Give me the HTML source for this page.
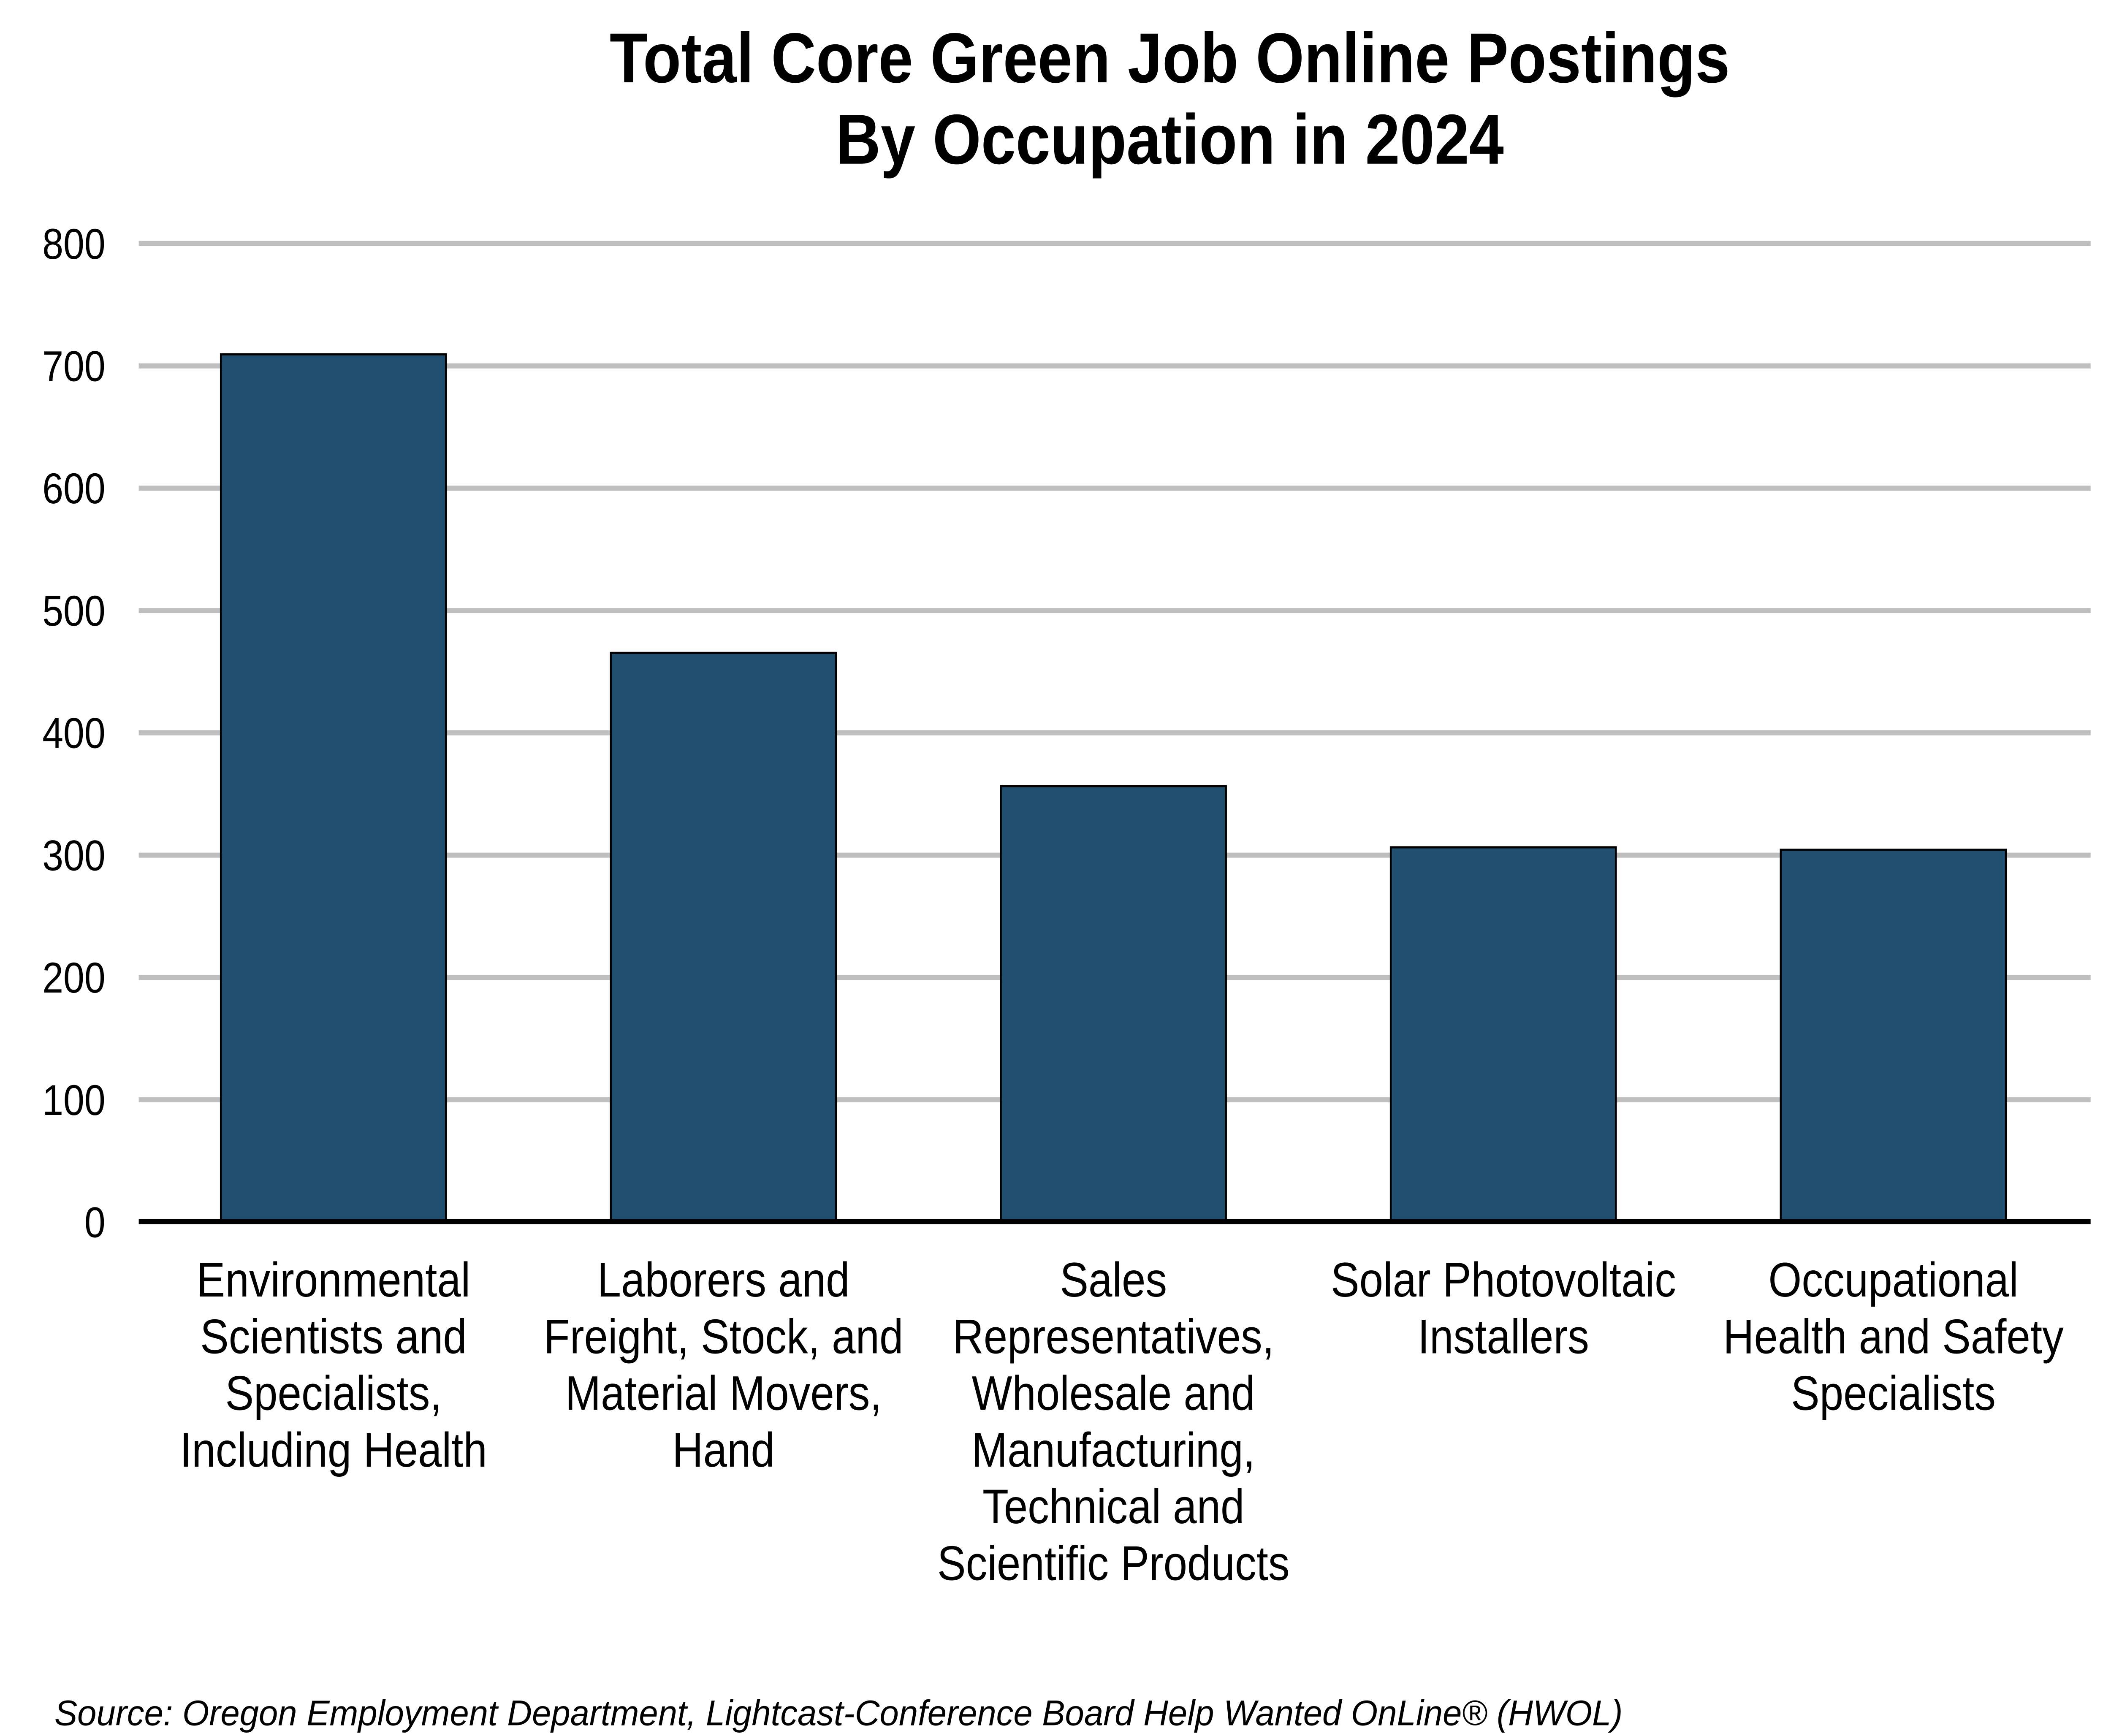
<!DOCTYPE html>
<html><head><meta charset="utf-8"><style>
html,body{margin:0;padding:0;background:#fff;overflow:hidden;width:100vw;height:100vh;}
svg{display:block;width:100vw;height:100vh;}
</style></head><body>
<svg viewBox="0 0 1552 1124" preserveAspectRatio="none" xmlns="http://www.w3.org/2000/svg" font-family="'Liberation Sans', Arial, sans-serif">
<rect width="1552" height="1124" fill="#fff"/>
<text x="860" y="53.3" font-size="45.8" font-weight="bold" text-anchor="middle">Total Core Green Job Online Postings</text>
<text x="860" y="106" font-size="45.8" font-weight="bold" text-anchor="middle">By Occupation in 2024</text>
<g stroke="#bfbfbf" stroke-width="3.3">
<line x1="102" x2="1537" y1="157.7" y2="157.7"/>
<line x1="102" x2="1537" y1="236.9" y2="236.9"/>
<line x1="102" x2="1537" y1="316.1" y2="316.1"/>
<line x1="102" x2="1537" y1="395.3" y2="395.3"/>
<line x1="102" x2="1537" y1="474.5" y2="474.5"/>
<line x1="102" x2="1537" y1="553.7" y2="553.7"/>
<line x1="102" x2="1537" y1="632.9" y2="632.9"/>
<line x1="102" x2="1537" y1="712.1" y2="712.1"/>
</g>
<g font-size="27.8" text-anchor="end">
<text x="77.5" y="167.5">800</text>
<text x="77.5" y="246.7">700</text>
<text x="77.5" y="325.9">600</text>
<text x="77.5" y="405.1">500</text>
<text x="77.5" y="484.3">400</text>
<text x="77.5" y="563.5">300</text>
<text x="77.5" y="642.7">200</text>
<text x="77.5" y="721.9">100</text>
<text x="77.5" y="801">0</text>
</g>
<g fill="#214f6f" stroke="#000" stroke-width="1.4">
<rect x="162.4" y="229.4" width="165.5" height="561.6"/>
<rect x="449.1" y="422.7" width="165.5" height="368.3"/>
<rect x="735.8" y="509.0" width="165.5" height="282.0"/>
<rect x="1022.5" y="548.6" width="165.5" height="242.4"/>
<rect x="1309.2" y="550.2" width="165.5" height="240.8"/>
</g>
<line x1="102" x2="1537" y1="791" y2="791" stroke="#000" stroke-width="3.3"/>
<g font-size="31.5" text-anchor="middle">
<text x="245.2" y="839.5">Environmental</text>
<text x="245.2" y="876.2">Scientists and</text>
<text x="245.2" y="912.9">Specialists,</text>
<text x="245.2" y="949.6">Including Health</text>
<text x="531.9" y="839.5">Laborers and</text>
<text x="531.9" y="876.2">Freight, Stock, and</text>
<text x="531.9" y="912.9">Material Movers,</text>
<text x="531.9" y="949.6">Hand</text>
<text x="818.6" y="839.5">Sales</text>
<text x="818.6" y="876.2">Representatives,</text>
<text x="818.6" y="912.9">Wholesale and</text>
<text x="818.6" y="949.6">Manufacturing,</text>
<text x="818.6" y="986.3">Technical and</text>
<text x="818.6" y="1023">Scientific Products</text>
<text x="1105.3" y="839.5">Solar Photovoltaic</text>
<text x="1105.3" y="876.2">Installers</text>
<text x="1392" y="839.5">Occupational</text>
<text x="1392" y="876.2">Health and Safety</text>
<text x="1392" y="912.9">Specialists</text>
</g>
<text x="40" y="1117" font-size="23" font-style="italic" textLength="1153" lengthAdjust="spacingAndGlyphs">Source: Oregon Employment Department, Lightcast-Conference Board Help Wanted OnLine® (HWOL)</text>
</svg>
</body></html>
